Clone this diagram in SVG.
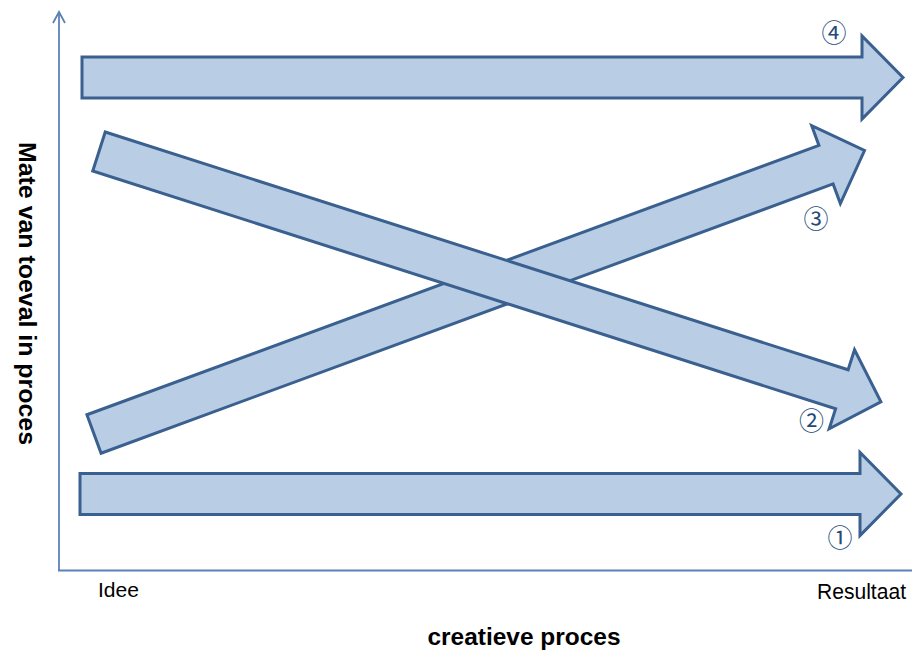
<svg xmlns="http://www.w3.org/2000/svg" xmlns:xlink="http://www.w3.org/1999/xlink" width="912" height="652" viewBox="0 0 912 652">
  <style>
    .axis { fill: none; stroke: #5B82B5; stroke-width: 1.8; stroke-linecap: butt; }
    .block { fill: #B9CDE5; stroke: #3A6090; stroke-width: 3; stroke-linejoin: miter; }
    .lbl { font-family: "Liberation Sans", Arial, sans-serif; fill: #000; }
    .title { font-weight: bold; }
    .num { font-family: "Noto Sans CJK JP", "DejaVu Sans", sans-serif; font-size: 25px; fill: #244A78; text-anchor: middle; dominant-baseline: central; }
  </style>
  <defs>
    <!-- block arrow pointing right, tail centre at the origin -->
    <path id="blockArrow" d="M0,-20.5 H780 V-41.5 L821,0 L780,41.5 V20.5 H0 Z"/>
  </defs>
  <rect width="912" height="652" fill="#FFFFFF"/>

  <!-- axes -->
  <g id="axes">
    <line class="axis" x1="59" y1="12" x2="59" y2="571"/>
    <polyline class="axis" points="53,23 59,12 65,23"/>
    <line class="axis" x1="58" y1="570.5" x2="912" y2="570.5"/>
  </g>

  <!-- block arrows -->
  <g id="connectors">
    <g id="arrow4"><use xlink:href="#blockArrow" class="block" transform="translate(82,77.5)"/></g>
    <g id="arrow1"><use xlink:href="#blockArrow" class="block" transform="translate(80,494)"/></g>
    <g id="arrow3"><use xlink:href="#blockArrow" class="block" transform="translate(94,434) rotate(-20.2)"/></g>
    <g id="arrow2"><use xlink:href="#blockArrow" class="block" transform="translate(99,151.5) rotate(17.75)"/></g>
  </g>

  <!-- circled numbers -->
  <g id="numbers">
    <text class="num" x="834" y="30.5">④</text>
    <text class="num" x="816" y="217">③</text>
    <text class="num" x="811.5" y="418.5">②</text>
    <text class="num" x="840" y="536">①</text>
  </g>

  <!-- labels -->
  <g id="labels">
    <text class="lbl" x="98" y="597" font-size="21" textLength="41" lengthAdjust="spacingAndGlyphs">Idee</text>
    <text class="lbl" x="817" y="599" font-size="22" textLength="89" lengthAdjust="spacingAndGlyphs">Resultaat</text>
    <text class="lbl title" x="524" y="645" font-size="23" text-anchor="middle" textLength="193" lengthAdjust="spacingAndGlyphs">creatieve proces</text>
    <text class="lbl title" transform="translate(18.5,293.5) rotate(90)" font-size="23" text-anchor="middle" textLength="303" lengthAdjust="spacingAndGlyphs">Mate van toeval in proces</text>
  </g>
</svg>
